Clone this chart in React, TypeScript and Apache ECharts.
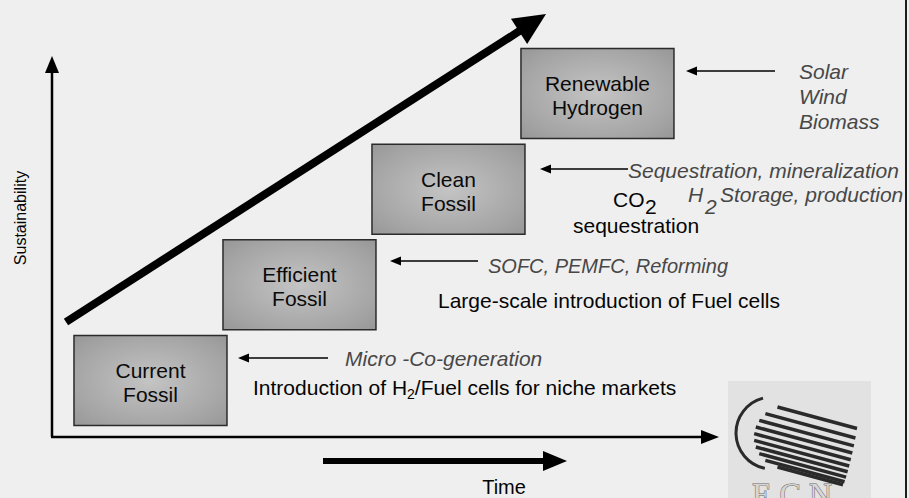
import React, { useEffect, useRef } from 'react';
import * as echarts from 'echarts';

// ---- data ----
const stageLabels = ['Current\nFossil', 'Efficient\nFossil', 'Clean\nFossil', 'Renewable\nHydrogen'];
const timeStep = [1, 2, 3, 4];
const sustainabilityLevel = [1, 2, 3, 4];
const driverLabels = ['Micro -Co-generation', 'SOFC, PEMFC, Reforming', 'Sequestration, mineralization', 'Solar\nWind\nBiomass'];
const milestoneLabels = ['Large-scale introduction of Fuel cells', 'sequestration'];
const axisTitles = ['Time', 'Sustainability'];

const SANS = '"Liberation Sans", Arial, Helvetica, sans-serif';
const SERIF = '"Liberation Serif", "DejaVu Serif", serif';

function arrow(x1: number, y1: number, x2: number, y2: number, lw: number, hl: number, hw: number, color = '#000') {
  const dx = x2 - x1, dy = y2 - y1;
  const L = Math.hypot(dx, dy);
  const ux = dx / L, uy = dy / L;
  const bx = x2 - ux * hl, by = y2 - uy * hl;
  const px = -uy, py = ux;
  return [
    { type: 'line', z: 5, shape: { x1, y1, x2: bx + ux, y2: by + uy }, style: { stroke: color, lineWidth: lw } },
    { type: 'polygon', z: 5, shape: { points: [[x2, y2], [bx + px * hw, by + py * hw], [bx - px * hw, by - py * hw]] }, style: { fill: color } },
  ];
}

function txt(text: string, x: number, y: number, size: number, o: any = {}) {
  return {
    type: 'text', z: 6, x, y, rotation: o.rotation || 0,
    style: {
      text,
      font: `${o.italic ? 'italic ' : ''}${size}px ${o.family || SANS}`,
      fill: o.color || '#050505',
      textAlign: o.align || 'left',
      textVerticalAlign: o.valign || 'middle',
      lineHeight: o.lh,
      rich: o.rich,
    },
  };
}

const ITALIC = '#474747';

export default function App() {
  const ref = useRef<HTMLDivElement>(null);
  useEffect(() => {
    document.body.style.margin = '0';
    const chart = echarts.init(ref.current!, null, { renderer: 'svg' });

    const boxFill = new echarts.graphic.RadialGradient(0.5, 0.5, 0.95, [
      { offset: 0, color: '#c4c4c4' },
      { offset: 0.55, color: '#a4a4a4' },
      { offset: 1, color: '#858585' },
    ]);

    // logo stripes
    const stripes: any[] = [];
    for (let k = 0; k < 10; k++) {
      const yl = 407 + (k * 60) / 9;
      const d = (yl - 437) / 32;
      const xl = 790 - 36 * Math.sqrt(Math.max(0, 1 - d * d));
      const xr = 857 - (14 * k) / 9;
      const yr = yl + 0.27 * (xr - xl);
      stripes.push({ type: 'line', z: 4, shape: { x1: xl, y1: yl, x2: xr, y2: yr }, style: { stroke: '#2a2a2a', lineWidth: 3.5 } });
    }

    const graphics: any[] = [
      // logo
      { type: 'rect', z: 3, shape: { x: 728, y: 381, width: 143, height: 120 }, style: { fill: '#e2e2e2' } },
      { type: 'arc', z: 4, shape: { cx: 772, cy: 433, r: 36, startAngle: 1.77, endAngle: 4.46, clockwise: true }, style: { stroke: '#2a2a2a', lineWidth: 3, fill: 'none' } },
      ...stripes,
      { type: 'text', z: 4, x: 792, y: 478, style: { text: 'E C N', font: `32px ${SERIF}`, fill: '#d6d6d6', stroke: '#6a6a6a', lineWidth: 1, textAlign: 'center', textVerticalAlign: 'top' } },

      // axes
      ...arrow(52, 437, 52, 56, 2.5, 17, 7),
      ...arrow(51, 437, 719, 437, 2.5, 18, 7),
      // big trend arrow
      ...arrow(66, 322, 546, 14, 8, 32, 15),
      // time arrow
      ...arrow(323, 461, 567, 461, 6, 24, 10),
      // driver arrows
      ...arrow(328, 358, 238, 358, 1.5, 11, 4.5),
      ...arrow(478, 261, 390, 261, 1.5, 11, 4.5),
      ...arrow(628, 169, 540, 169, 1.5, 11, 4.5),
      ...arrow(775, 71, 686, 71, 1.5, 11, 4.5),

      // axis titles
      txt(axisTitles[0], 504, 487, 20, { align: 'center' }),
      txt(axisTitles[1], 20, 218, 16, { align: 'center', rotation: Math.PI / 2 }),

      // drivers (italic)
      txt(driverLabels[0], 345, 358, 21, { italic: true, color: ITALIC }),
      txt(driverLabels[1], 488, 266, 20, { italic: true, color: ITALIC }),
      txt(driverLabels[2], 628, 170, 21, { italic: true, color: ITALIC }),
      txt(driverLabels[3], 799, 96, 21, { italic: true, color: ITALIC, lh: 25 }),
      txt('H', 688, 194, 21, { italic: true, color: ITALIC }),
      txt('2', 705, 206, 21, { italic: true, color: ITALIC }),
      txt('Storage, production', 720, 194, 21, { italic: true, color: ITALIC }),

      // milestones
      txt('{n|Introduction of H}{s|2}{n|/Fuel cells for niche markets}', 253, 387, 21, {
        rich: {
          n: { font: `21px ${SANS}`, fill: '#050505', lineHeight: 30 },
          s: { font: `14px ${SANS}`, fill: '#050505', lineHeight: 30, padding: [14, 0, 0, 0] },
        },
      }),
      txt(milestoneLabels[0], 438, 300, 21),
      txt('CO', 613, 199, 21),
      txt('2', 645, 206, 21),
      txt(milestoneLabels[1], 573, 225, 21),

      // right border
      { type: 'rect', z: 20, shape: { x: 906, y: 0, width: 4, height: 498 }, style: { fill: '#efefef' } },
      { type: 'line', z: 21, shape: { x1: 906, y1: 0, x2: 906, y2: 498 }, style: { stroke: '#1e1e1e', lineWidth: 2 } },
    ];

    chart.setOption({
      animation: false,
      backgroundColor: '#efefef',
      grid: { left: 52, right: 191, top: 57, bottom: 61, containLabel: false },
      xAxis: {
        type: 'value', min: 0.339, max: 4.809,
        axisLine: { show: false }, axisTick: { show: false }, axisLabel: { show: false }, splitLine: { show: false },
      },
      yAxis: {
        type: 'value', min: 0.4094, max: 4.3814,
        axisLine: { show: false }, axisTick: { show: false }, axisLabel: { show: false }, splitLine: { show: false },
      },
      series: [
        {
          type: 'custom',
          z: 8,
          data: timeStep.map((t, i) => [t, sustainabilityLevel[i]]),
          renderItem: (params: any, api: any) => {
            const c = api.coord([api.value(0), api.value(1)]);
            const w = 153, h = 90;
            return {
              type: 'group',
              children: [
                {
                  type: 'rect',
                  shape: { x: c[0] - w / 2, y: c[1] - h / 2, width: w, height: h },
                  style: { fill: boxFill, stroke: '#2b2b2b', lineWidth: 1.5 },
                },
                {
                  type: 'text',
                  x: c[0], y: c[1] + 2,
                  style: {
                    text: stageLabels[params.dataIndex],
                    font: `21px ${SANS}`,
                    fill: '#0a0a0a',
                    textAlign: 'center',
                    textVerticalAlign: 'middle',
                    lineHeight: 24,
                  },
                },
              ],
            };
          },
        },
      ],
      graphic: { elements: graphics },
    });
    return () => chart.dispose();
  }, []);
  return <div ref={ref} style={{ position: 'fixed', left: 0, top: 0, width: 909, height: 498 }} />;
}
